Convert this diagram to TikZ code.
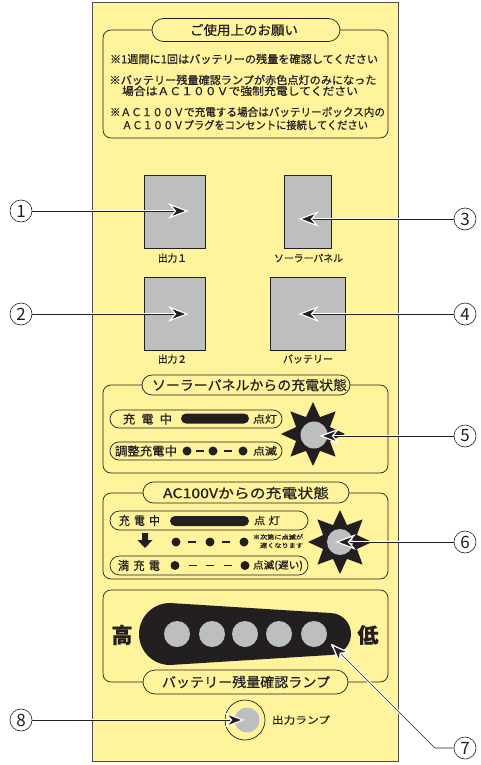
\documentclass[tikz,border=0pt]{standalone}
\usepackage{fontspec}
\setmainfont{Noto Sans CJK JP}[FakeBold=0.6]
\newfontfamily\numfont{Noto Sans CJK JP}
\usetikzlibrary{shapes.geometric}
\definecolor{panelY}{RGB}{255,244,156}
\definecolor{lampG}{RGB}{189,190,192}
\definecolor{ink}{RGB}{35,31,32}
\newcommand{\fitw}[2]{\resizebox{#1}{\height}{#2}}
\newcommand{\ahead}[2]{\filldraw[ahd,shift={(#1)},rotate=#2] (0,0) -- (-17,-6.5) -- (-11.5,0) -- (-17,6.5) -- cycle;}
\begin{document}
\begin{tikzpicture}[x=1pt,y=-1pt,
  sect/.style={draw=ink,line width=0.7pt,rounded corners=8pt},
  pill/.style={draw=ink,line width=0.7pt,fill=panelY,inner sep=0pt},
  gbox/.style={draw=ink,line width=0.6pt,fill=lampG,inner sep=0pt},
  txt/.style={inner sep=0pt,text=ink},
  numc/.style={circle,draw=ink,line width=0.6pt,minimum size=22pt,inner sep=0pt,fill=white,text=ink,font=\numfont\fontsize{17}{17}\selectfont},
  conn/.style={draw=ink,line width=0.7pt,preaction={draw=white,line width=2.6pt,shorten <=1.5pt}},
  ahd/.style={fill=ink,draw=white,line width=1.2pt,line join=miter},
  burst/.style={star,star points=8,star point ratio=1.75,minimum size=64pt,fill=ink,inner sep=0pt},
  lamp/.style={circle,fill=lampG,inner sep=0pt}
]
\useasboundingbox (0,0) rectangle (481,765);
% panel
\draw[fill=panelY,draw=ink!80,line width=0.7pt] (92.5,2.5) rectangle (398,761);

% notice box
\draw[sect] (103,30) rectangle (388,138);
\node[pill,minimum width=188pt,minimum height=23pt,rounded corners=11.5pt] (t0) at (246,30) {};
\node[txt] (t0txt) at (244,30) {\fitw{108pt}{\fontsize{13}{13}\selectfont ご使用上のお願い}};
\node[txt] (l1) at (244,59) {\fitw{268pt}{\fontsize{11}{11}\selectfont ※1週間に1回はバッテリーの残量を確認してください}};
\node[txt] (l2) at (243,80) {\fitw{267pt}{\fontsize{11}{11}\selectfont ※バッテリー残量確認ランプが赤色点灯のみになった}};
\node[txt] (l3) at (240,91) {\fitw{236pt}{\fontsize{11}{11}\selectfont 場合はＡＣ１００Ｖで強制充電してください}};
\node[txt] (l4) at (247.5,112) {\fitw{275pt}{\fontsize{11}{11}\selectfont ※ＡＣ１００Ｖで充電する場合はバッテリーボックス内の}};
\node[txt] (l5) at (245,125) {\fitw{246pt}{\fontsize{11}{11}\selectfont ＡＣ１００Ｖプラグをコンセントに接続してください}};

% gray sockets
\node[gbox,minimum width=61pt,minimum height=73pt] (out1) at (174.5,211.5) {};
\node[gbox,minimum width=47pt,minimum height=73pt] (solar) at (307.5,211.5) {};
\node[gbox,minimum width=61pt,minimum height=73pt] (out2) at (174.5,313.5) {};
\node[gbox,minimum width=75pt,minimum height=73pt] (batt) at (307.5,313.5) {};
\node[txt] (out1l) at (172.5,258) {\fitw{29pt}{\fontsize{10}{10}\selectfont 出力１}};
\node[txt] (solarl) at (308.5,258) {\fitw{69pt}{\fontsize{10}{10}\selectfont ソーラーパネル}};
\node[txt] (out2l) at (172.5,359) {\fitw{29pt}{\fontsize{10}{10}\selectfont 出力２}};
\node[txt] (battl) at (308,359) {\fitw{50pt}{\fontsize{10}{10}\selectfont バッテリー}};

% section solar
\draw[sect] (103,385) rectangle (388,473);
\node[pill,minimum width=208pt,minimum height=20pt,rounded corners=10pt] (t5) at (246,385) {};
\node[txt] (t5txt) at (249.5,385) {\fitw{195pt}{\fontsize{13.5}{13.5}\selectfont ソーラーパネルからの充電状態}};
\node[pill,minimum width=172pt,minimum height=18pt,rounded corners=9pt] (p5a) at (196,419) {};
\node[pill,minimum width=172pt,minimum height=18pt,rounded corners=9pt] (p5b) at (196,451) {};
\node[txt] (s5a) at (147.5,419) {\fitw{49pt}{\fontsize{12}{12}\selectfont 充\hspace{0.5em}電\hspace{0.5em}中}};
\fill[ink,rounded corners=5pt] (181,413.5) rectangle (249,423.5);
\node[txt] (s5al) at (265,419) {\fitw{24pt}{\fontsize{10}{10}\selectfont 点灯}};
\node[txt] (s5b) at (146,451) {\fitw{62pt}{\fontsize{12}{12}\selectfont 調整充電中}};
\foreach \xx in {187,213,243} \fill[ink] (\xx,451) circle (4.5);
\draw[ink,line width=1.4pt] (196,451) -- (204,451) (224,451) -- (232,451);
\node[txt] (s5bl) at (265,451) {\fitw{24pt}{\fontsize{10}{10}\selectfont 点滅}};
\node[burst] (b5) at (313,434) {};
\node[lamp,minimum size=27pt] (g5) at (314,435) {};

% section AC
\draw[sect] (103,493) rectangle (388,579);
\node[pill,minimum width=206pt,minimum height=21pt,rounded corners=10.5pt] (t6) at (246,492.5) {};
\node[txt] (t6txt) at (246,493) {\fitw{166pt}{\fontsize{13.5}{13.5}\selectfont AC100Vからの充電状態}};
\node[pill,minimum width=198pt,minimum height=19pt,rounded corners=9.5pt] (p6a) at (209,520.5) {};
\node[pill,minimum width=198pt,minimum height=19pt,rounded corners=9.5pt] (p6b) at (209,565.5) {};
\node[txt] (s6a) at (139.5,520.5) {\fitw{41pt}{\fontsize{12}{12}\selectfont 充\hspace{0.4em}電\hspace{0.4em}中}};
\fill[ink,rounded corners=5pt] (170,516) rectangle (249,526);
\node[txt] (s6al) at (267,520.5) {\fitw{26pt}{\fontsize{10}{10}\selectfont 点\hspace{0.3em}灯}};
\fill[ink] (142,533) -- (148,533) -- (148,540) -- (152.5,540) -- (145,548) -- (137.5,540) -- (142,540) -- cycle;
\foreach \xx in {176,210,244} \fill[ink] (\xx,542) circle (4.5);
\draw[ink,line width=1.4pt] (188,542) -- (196,542) (222,542) -- (230,542);
\node[txt] (nt1) at (278,537) {\fitw{50pt}{\fontsize{6}{6}\selectfont ※次第に点滅が}};
\node[txt] (nt2) at (281.5,545.5) {\fitw{43pt}{\fontsize{6}{6}\selectfont 遅くなります}};
\node[txt] (s6b) at (139,565.5) {\fitw{42pt}{\fontsize{12}{12}\selectfont 満\hspace{0.4em}充\hspace{0.4em}電}};
\foreach \xx in {175,245} \fill[ink] (\xx,565.5) circle (4.5);
\draw[ink,line width=1.4pt] (188.5,565.5) -- (196.5,565.5) (206,565.5) -- (214,565.5) (223.5,565.5) -- (231.5,565.5);
\node[txt] (s6bl) at (278,565.5) {\fitw{50pt}{\fontsize{10}{10}\selectfont 点滅(遅い)}};
\node[burst] (b6) at (340,542) {};
\node[lamp,minimum size=26pt] (g6) at (340,542) {};

% battery level section
\draw[sect] (103,590) rectangle (388,682);
\fill[ink] (170,603) -- (330,613) arc[start angle=-90,end angle=90,radius=21] -- (170,665) arc[start angle=90,end angle=270,radius=31] -- cycle;
\foreach \xx/\nm in {177/d1,212/d2,245/d3,279/d4,314/d5} \node[lamp,minimum size=26pt] (\nm) at (\xx,634) {};
\node[txt,font=\fontsize{21}{21}\selectfont\bfseries] (hi) at (122,635) {高};
\node[txt,font=\fontsize{21}{21}\selectfont\bfseries] (lo) at (368,635) {低};
\node[pill,minimum width=205pt,minimum height=24pt,rounded corners=12pt] (t7) at (245.5,682) {};
\node[txt] (t7txt) at (246,682) {\fitw{168pt}{\fontsize{13.5}{13.5}\selectfont バッテリー残量確認ランプ}};

% output lamp
\node[circle,draw=ink,line width=0.7pt,fill=panelY,minimum size=40pt,inner sep=0pt] (olamp) at (245,720) {};
\node[lamp,minimum size=25pt] (olampg) at (247,720) {};
\node[txt] (olampl) at (301,720) {\fitw{58pt}{\fontsize{10}{10}\selectfont 出力ランプ}};

% number circles
\node[numc] (n1) at (21,211) {1};
\node[numc] (n2) at (21,314) {2};
\node[numc] (n8) at (21,720) {8};
\node[numc] (n3) at (465,219) {3};
\node[numc] (n4) at (465,314) {4};
\node[numc] (n5) at (465,436) {5};
\node[numc] (n6) at (465,542) {6};
\node[numc] (n7) at (465,748) {7};

% arrow tips
\coordinate (a1) at (187,211);
\coordinate (a2) at (187,314);
\coordinate (a3) at (300,219);
\coordinate (a4) at (300,314);
\coordinate (a5) at (321,436);
\coordinate (a6) at (337,542);
\coordinate (a7) at (332,645);
\coordinate (k7) at (435,748);
\coordinate (a8) at (243,720);

\draw[conn] (n1) -- (a1);
\draw[conn] (n2) -- (a2);
\draw[conn] (n3) -- (a3);
\draw[conn] (n4) -- (a4);
\draw[conn] (n5) -- (a5);
\draw[conn] (n6) -- (a6);
\draw[conn] (n7) -- (k7) -- (a7);
\draw[conn] (n8) -- (a8);
\ahead{a1}{0}
\ahead{a2}{0}
\ahead{a3}{180}
\ahead{a4}{180}
\ahead{a5}{180}
\ahead{a6}{180}
\ahead{a7}{135}
\ahead{a8}{0}
\end{tikzpicture}
\end{document}
